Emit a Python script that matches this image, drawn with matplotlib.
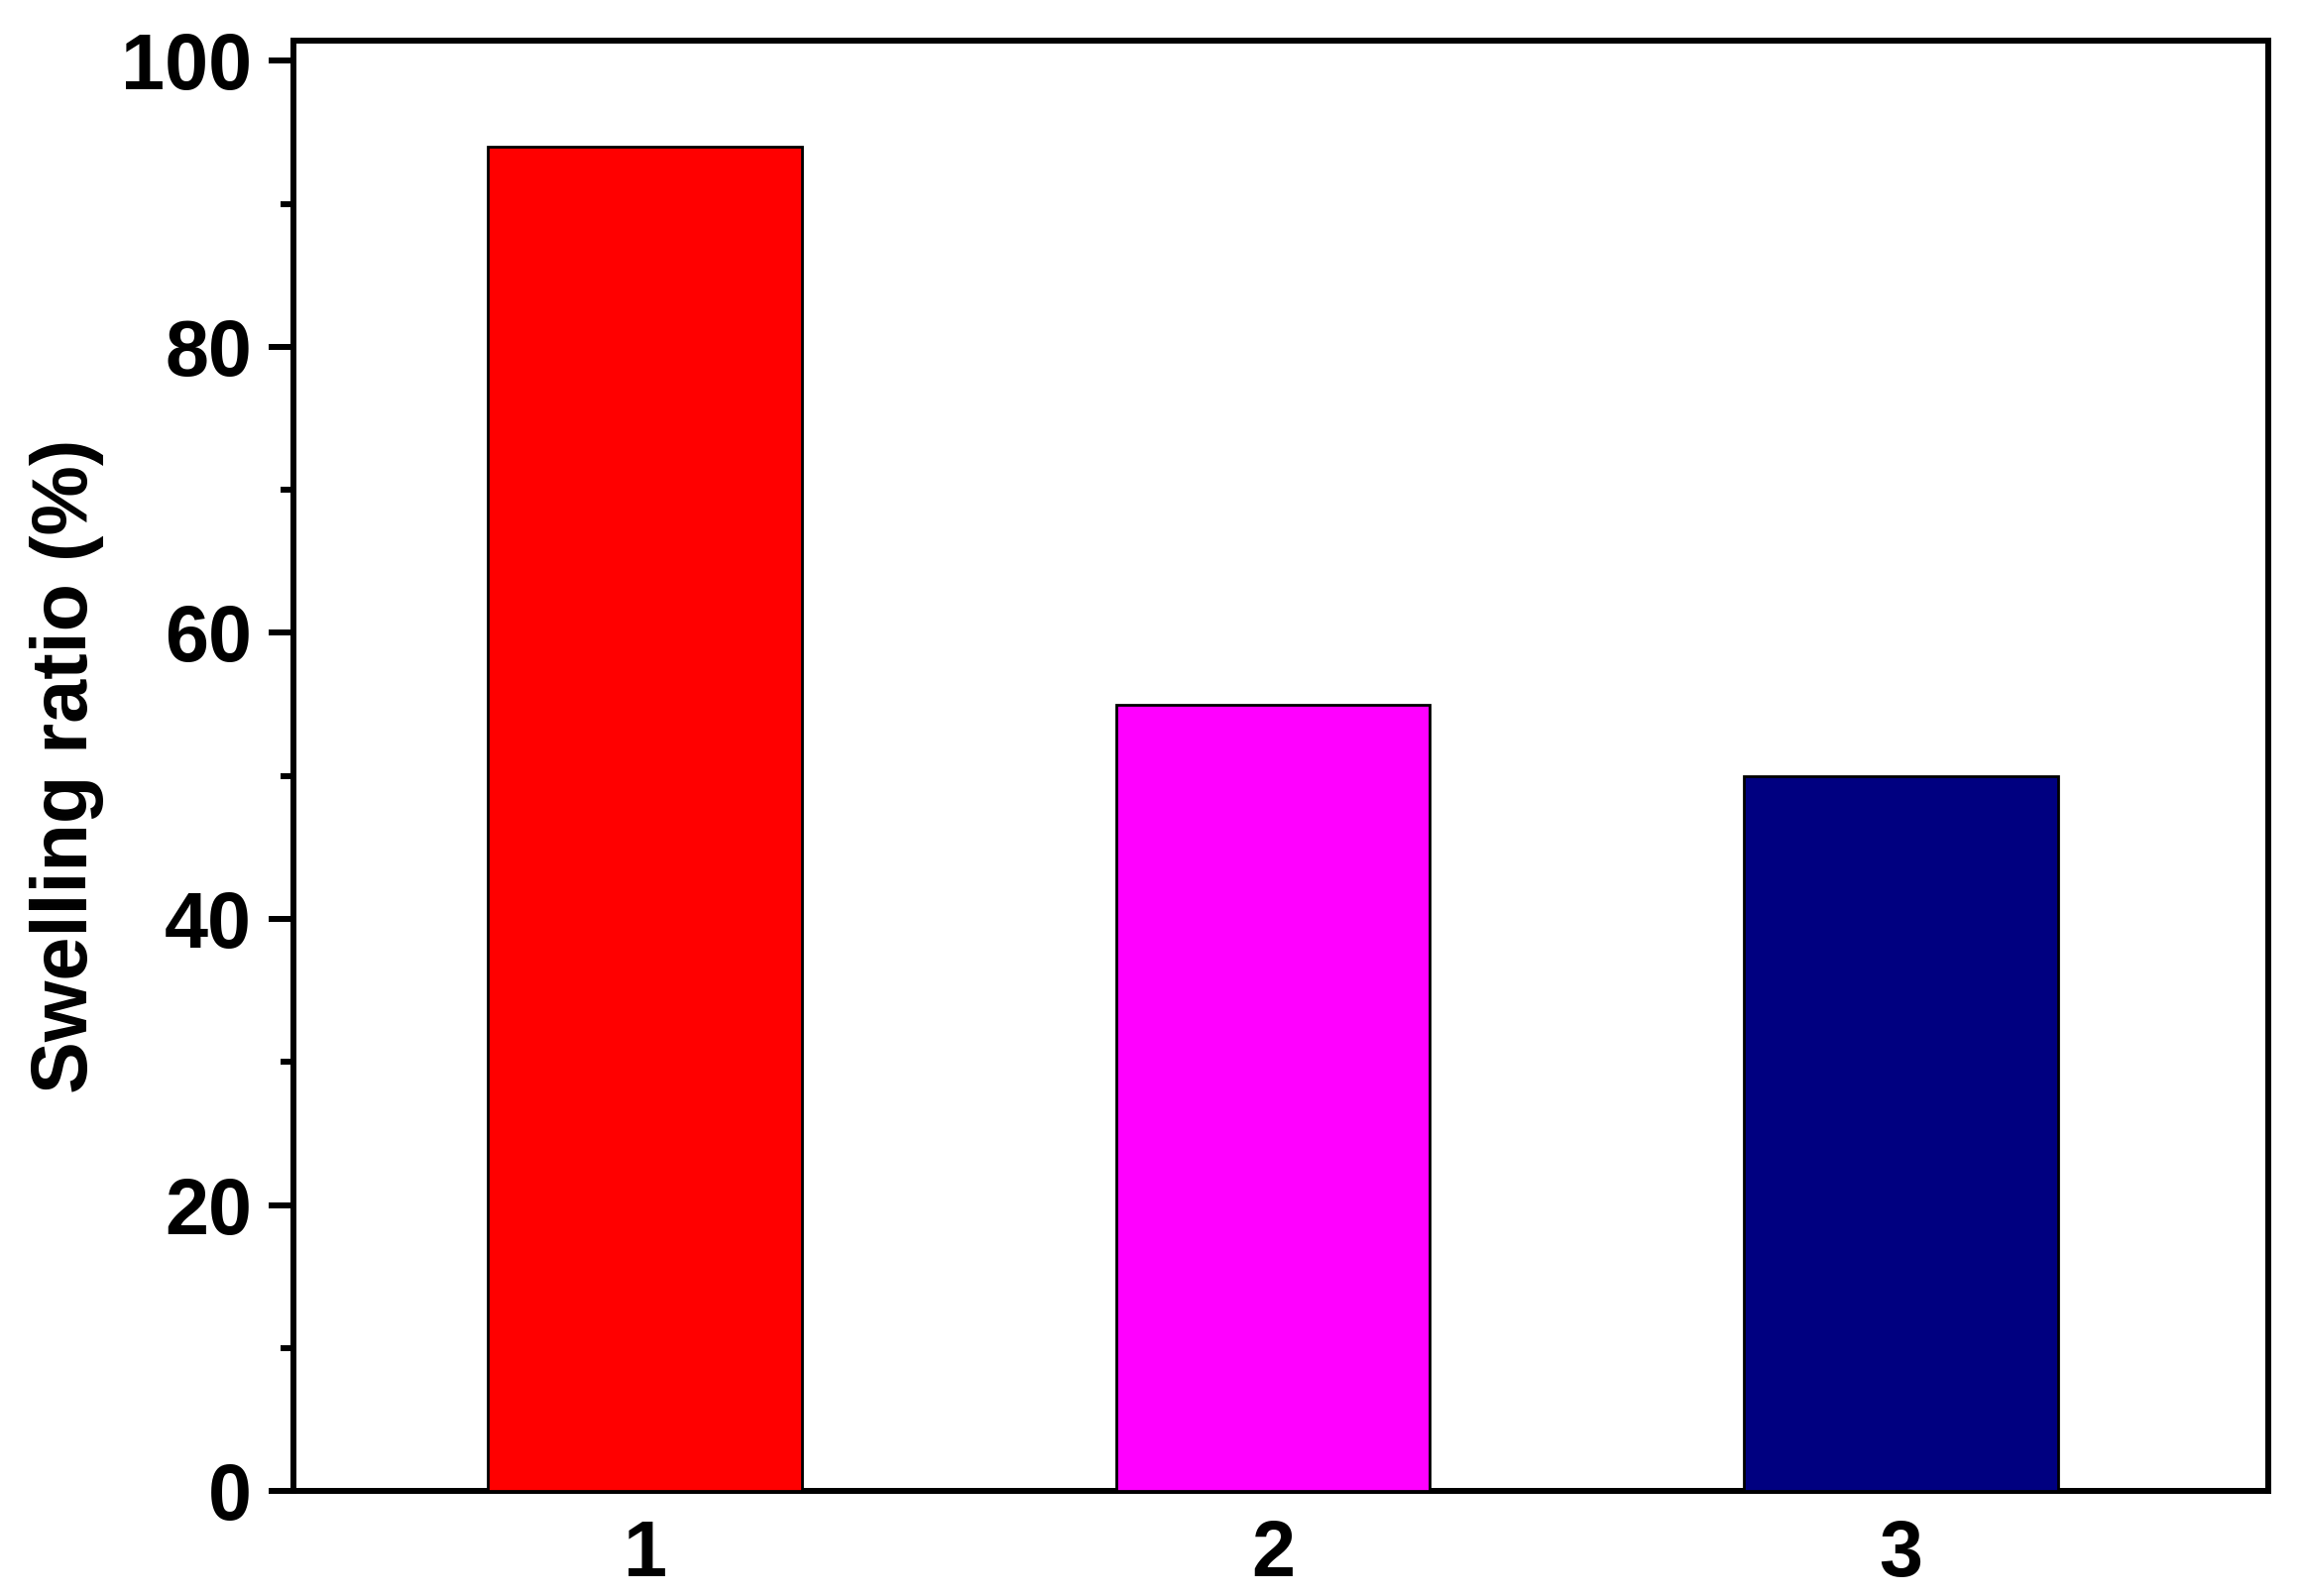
import matplotlib
matplotlib.use("Agg")
import matplotlib.pyplot as plt
from matplotlib.ticker import MultipleLocator

categories = ["1", "2", "3"]
values = [94, 55, 50]
colors = ["#FF0000", "#FF00FF", "#000080"]
yticks = [0, 20, 40, 60, 80, 100]

plt.rcParams['font.family'] = ['Liberation Sans', 'DejaVu Sans']
plt.rcParams['font.weight'] = 'bold'

fig = plt.figure(figsize=(23.19, 16.10), dpi=100)
ax = fig.add_axes([0.1276, 0.0658, 0.9866 - 0.1276, 0.9745 - 0.0658])

x = [1, 2, 3]
ax.bar(x, values, width=0.5, color=colors, edgecolor='black', linewidth=2.0, zorder=3)

ax.set_xlim(0.44, 3.585)
ax.set_ylim(0, 101.4)
ax.set_xticks(x)
ax.set_xticklabels(categories)
ax.set_yticks(yticks)
ax.yaxis.set_minor_locator(MultipleLocator(10))

for s in ax.spines.values():
    s.set_linewidth(4.3)

ax.tick_params(axis='x', length=0, pad=20, labelsize=57)
ax.tick_params(axis='y', which='major', direction='out', length=18, width=4.3, pad=12, labelsize=57)
ax.tick_params(axis='y', which='minor', direction='out', length=9.5, width=4.3)
for lbl in ax.get_xticklabels() + ax.get_yticklabels():
    lbl.set_fontweight('bold')

ax.set_ylabel("Swelling ratio (%)", fontsize=57, fontweight='bold', labelpad=12)

fig.savefig("out.png", dpi=100, facecolor='white')
